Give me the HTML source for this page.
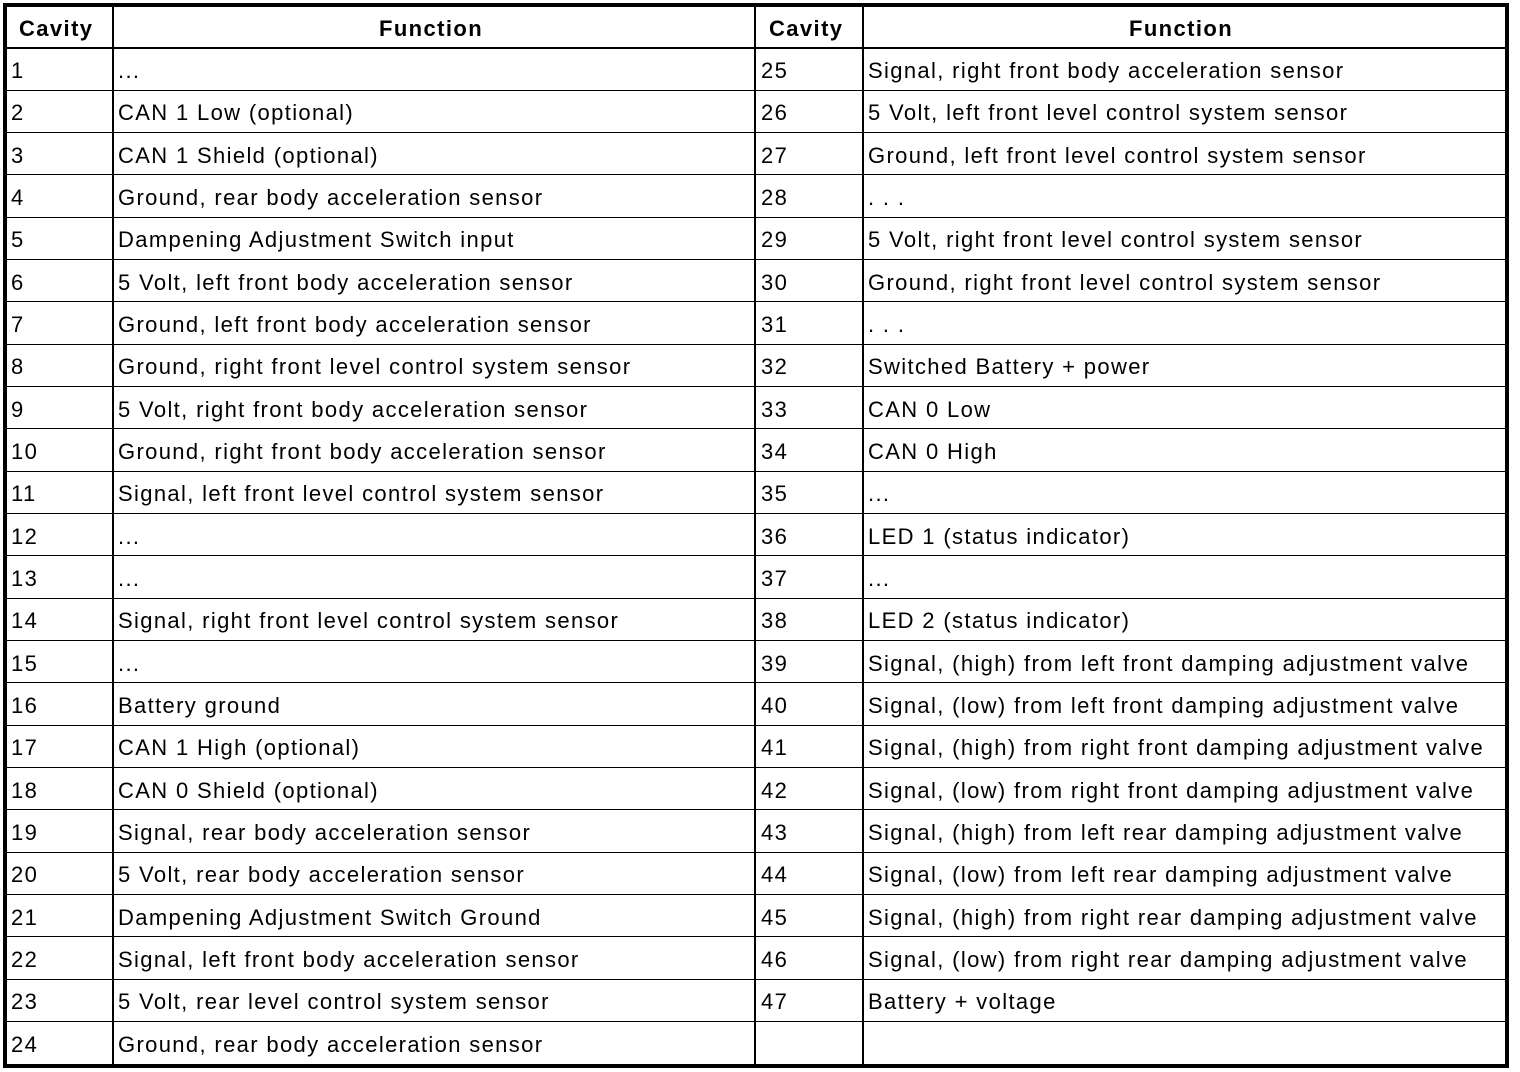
<!DOCTYPE html>
<html>
<head>
<meta charset="utf-8">
<style>
  html, body { margin:0; padding:0; background:#fff; }
  body { width:1520px; height:1072px; position:relative; overflow:hidden;
         font-family:"Liberation Sans", Arial, sans-serif; color:#000; }
  .outer { position:absolute; left:3px; top:3px; width:1506px; height:1065px;
           border:4px solid #000; box-sizing:border-box; }
  .v { position:absolute; top:5px; width:2px; height:1060px; background:#000; }
  .h { position:absolute; left:5px; width:1502px; height:1px; background:#000; }
  .hh { position:absolute; left:5px; width:1502px; height:2px; top:47px; background:#000; }
  .t { position:absolute; font-size:22px; letter-spacing:1.35px; white-space:nowrap; height:42px; line-height:42px; }
  .hd { position:absolute; font-size:22px; letter-spacing:1.4px; font-weight:bold; white-space:nowrap; top:8px; height:40px; line-height:42px; }
</style>
</head>
<body>
<div class="outer"></div>
<div class="v" style="left:112px"></div>
<div class="v" style="left:754px"></div>
<div class="v" style="left:862px"></div>
<div class="hh"></div>

<div class="hd" style="left:19px">Cavity</div>
<div class="hd" style="left:379px">Function</div>
<div class="hd" style="left:769px">Cavity</div>
<div class="hd" style="left:1129px">Function</div>

<div id="rows"></div>
<script>
(function(){
  var L = [
    ["1","..."],["2","CAN 1 Low (optional)"],["3","CAN 1 Shield (optional)"],
    ["4","Ground, rear body acceleration sensor"],["5","Dampening Adjustment Switch input"],
    ["6","5 Volt, left front body acceleration sensor"],["7","Ground, left front body acceleration sensor"],
    ["8","Ground, right front level control system sensor"],["9","5 Volt, right front body acceleration sensor"],
    ["10","Ground, right front body acceleration sensor"],["11","Signal, left front level control system sensor"],
    ["12","..."],["13","..."],["14","Signal, right front level control system sensor"],["15","..."],
    ["16","Battery ground"],["17","CAN 1 High (optional)"],["18","CAN 0 Shield (optional)"],
    ["19","Signal, rear body acceleration sensor"],["20","5 Volt, rear body acceleration sensor"],
    ["21","Dampening Adjustment Switch Ground"],["22","Signal, left front body acceleration sensor"],
    ["23","5 Volt, rear level control system sensor"],["24","Ground, rear body acceleration sensor"]
  ];
  var R = [
    ["25","Signal, right front body acceleration sensor"],["26","5 Volt, left front level control system sensor"],
    ["27","Ground, left front level control system sensor"],["28",". . ."],
    ["29","5 Volt, right front level control system sensor"],["30","Ground, right front level control system sensor"],
    ["31",". . ."],["32","Switched Battery + power"],["33","CAN 0 Low"],["34","CAN 0 High"],["35","..."],
    ["36","LED 1 (status indicator)"],["37","..."],["38","LED 2 (status indicator)"],
    ["39","Signal, (high) from left front damping adjustment valve"],
    ["40","Signal, (low) from left front damping adjustment valve"],
    ["41","Signal, (high) from right front damping adjustment valve"],
    ["42","Signal, (low) from right front damping adjustment valve"],
    ["43","Signal, (high) from left rear damping adjustment valve"],
    ["44","Signal, (low) from left rear damping adjustment valve"],
    ["45","Signal, (high) from right rear damping adjustment valve"],
    ["46","Signal, (low) from right rear damping adjustment valve"],
    ["47","Battery + voltage"],["",""]
  ];
  var html = "";
  var step = 42.33;
  for (var i=0;i<24;i++){
    var top = 48 + i*step;
    if (i>0) html += '<div class="h" style="top:'+Math.round(top-0.5)+'px"></div>';
    var tt = Math.round(top) + 2;
    html += '<div class="t" style="left:11px;top:'+tt+'px">'+L[i][0]+'</div>';
    html += '<div class="t" style="left:118px;top:'+tt+'px">'+L[i][1]+'</div>';
    html += '<div class="t" style="left:761px;top:'+tt+'px">'+R[i][0]+'</div>';
    html += '<div class="t" style="left:868px;top:'+tt+'px">'+R[i][1]+'</div>';
  }
  document.getElementById("rows").innerHTML = html;
})();
</script>
</body>
</html>
